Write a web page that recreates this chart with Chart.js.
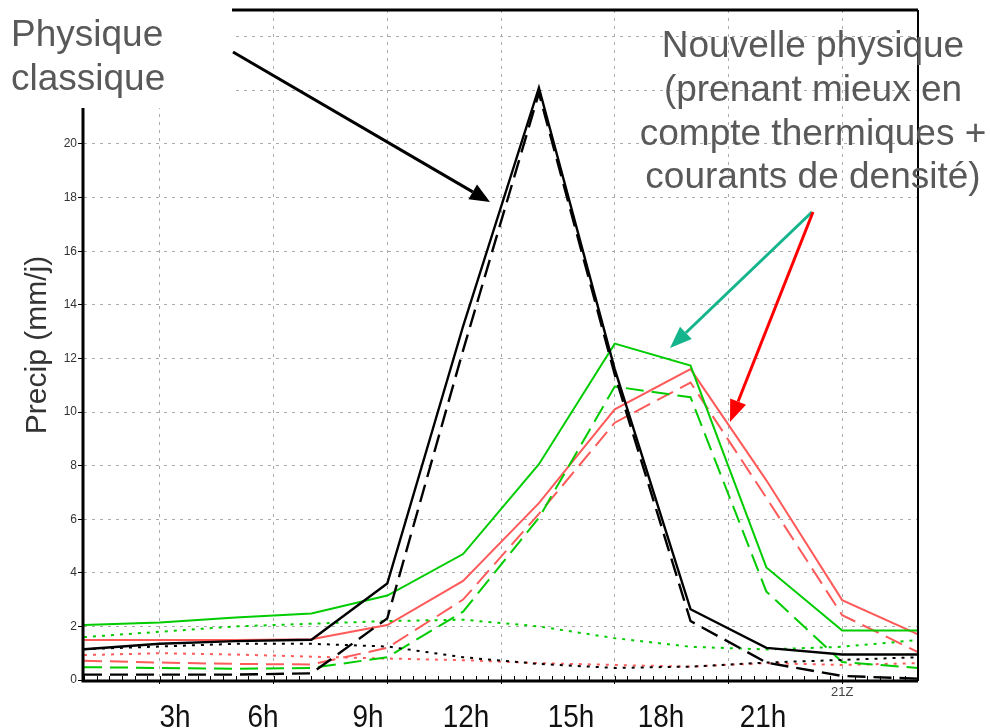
<!DOCTYPE html>
<html>
<head>
<meta charset="utf-8">
<script src="https://cdn.jsdelivr.net/npm/chart.js@4/dist/chart.umd.min.js"></script>
<style>
  html, body { margin: 0; padding: 0; background: #fff; }
  canvas { display: block; }
</style>
</head>
<body>
<canvas id="c" width="990" height="728"></canvas>
<script>
// Hours (UTC) of the model outputs
const hours = [1, 3, 5, 7, 9, 11, 13, 15, 17, 19, 21, 23];

// Precipitation (mm/day) - classic physics (black)
const classicSolid  = [1.15, 1.35, 1.45, 1.5, 3.6, 13.2, 22.1, 11.6, 2.64, 1.2, 0.95, 0.95];
const classicDashed = [0.2, 0.2, 0.2, 0.25, 2.3, 12.3, 21.9, 11.4, 2.2, 0.65, 0.15, 0.05];
const classicDotted = [1.15, 1.25, 1.35, 1.35, 1.25, 0.85, 0.6, 0.45, 0.5, 0.65, 0.75, 0.85];

// New physics with thermals (green)
const thermSolid  = [2.05, 2.15, 2.33, 2.48, 3.15, 4.7, 8.05, 12.55, 11.73, 4.2, 1.85, 1.85];
const thermDashed = [0.48, 0.45, 0.42, 0.45, 0.85, 2.55, 6.05, 10.95, 10.55, 3.3, 0.67, 0.45];
const thermDotted = [1.6, 1.8, 2.0, 2.1, 2.2, 2.25, 2.0, 1.56, 1.24, 1.14, 1.24, 1.49];

// New physics with thermals + density currents (red)
const wakeSolid  = [1.49, 1.49, 1.49, 1.52, 2.05, 3.7, 6.6, 10.1, 11.6, 7.45, 2.98, 1.7];
const wakeDashed = [0.72, 0.65, 0.6, 0.58, 1.2, 3.0, 6.2, 9.6, 11.1, 6.8, 2.42, 1.04];
const wakeDotted = [0.93, 1.0, 0.95, 0.87, 0.8, 0.74, 0.63, 0.56, 0.5, 0.63, 0.56, 0.63];

// Axis ticks
const yTickValues = [0, 2, 4, 6, 8, 10, 12, 14, 16, 18, 20, 22, 24];
const xTickValues = [3, 6, 9, 12, 15, 18, 21];
const xTickLabels = ['', '', '', '', '', '', '21Z'];
const hourLabels = ['3h', '6h', '9h', '12h', '15h', '18h', '21h'];

const BLACK = '#000000';
const GREEN = '#00cc00';
const RED = '#ff5a5a';
const DASH = [18, 8];
const DOT = [3, 6];

function series(values, color, dash, width) {
  return {
    data: hours.map((h, i) => ({ x: h, y: values[i] })),
    borderColor: color,
    borderWidth: width || 2,
    borderDash: dash,
    pointRadius: 0,
    tension: 0,
    fill: false
  };
}

function arrow(ctx, x1, y1, x2, y2, color, width, headLen, headW) {
  const ang = Math.atan2(y2 - y1, x2 - x1);
  const bx = x2 - headLen * Math.cos(ang);
  const by = y2 - headLen * Math.sin(ang);
  ctx.save();
  ctx.strokeStyle = color;
  ctx.fillStyle = color;
  ctx.lineWidth = width;
  ctx.setLineDash([]);
  ctx.beginPath();
  ctx.moveTo(x1, y1);
  ctx.lineTo(bx, by);
  ctx.stroke();
  ctx.beginPath();
  ctx.moveTo(x2, y2);
  ctx.lineTo(bx + (headW / 2) * Math.sin(ang), by - (headW / 2) * Math.cos(ang));
  ctx.lineTo(bx - (headW / 2) * Math.sin(ang), by + (headW / 2) * Math.cos(ang));
  ctx.closePath();
  ctx.fill();
  ctx.restore();
}

const decor = {
  id: 'decor',
  beforeDraw(chart) {
    const ctx = chart.ctx;
    ctx.save();
    ctx.fillStyle = '#ffffff';
    ctx.fillRect(0, 0, chart.width, chart.height);
    ctx.restore();
  },
  afterDraw(chart) {
    const { ctx, chartArea: a, scales: { x, y } } = chart;
    ctx.save();
    ctx.setLineDash([]);

    // minor ticks along the time axis
    ctx.strokeStyle = '#000';
    ctx.lineWidth = 1;
    ctx.beginPath();
    for (let v = x.min; v <= x.max + 1e-6; v += 1 / 3) {
      const px = Math.round(x.getPixelForValue(v)) + 0.5;
      ctx.moveTo(px, a.bottom);
      ctx.lineTo(px, a.bottom - 4);
    }
    ctx.stroke();

    // frame
    ctx.strokeStyle = '#000';
    ctx.lineWidth = 3;
    ctx.beginPath();
    ctx.moveTo(a.left - 1, a.top);
    ctx.lineTo(a.left - 1, a.bottom + 1);
    ctx.lineTo(a.right, a.bottom + 1);
    ctx.moveTo(a.left - 1, a.top);
    ctx.lineTo(a.right, a.top);
    ctx.stroke();
    ctx.lineWidth = 2;
    ctx.beginPath();
    ctx.moveTo(a.right, a.top);
    ctx.lineTo(a.right, a.bottom + 1);
    ctx.stroke();

    // label box, top left
    ctx.fillStyle = '#ffffff';
    ctx.fillRect(0, 0, 232, 108);

    ctx.fillStyle = '#595959';
    ctx.font = '37px "Liberation Sans", Arial, sans-serif';
    ctx.textBaseline = 'alphabetic';
    ctx.textAlign = 'left';
    ctx.fillText('Physique', 11, 46);
    ctx.fillText('classique', 11, 90);

    ctx.textAlign = 'center';
    const newLines = ['Nouvelle physique', '(prenant mieux en', 'compte thermiques +', 'courants de densité)'];
    const baselines = [57, 101, 145, 188];
    newLines.forEach((t, i) => ctx.fillText(t, 813, baselines[i]));

    // arrows
    arrow(ctx, 233, 52, 490, 202, '#000000', 3, 20, 17);
    arrow(ctx, 812, 212, 670, 348, '#14b48c', 3, 22, 17);
    arrow(ctx, 813, 212, 730, 422, '#ff0000', 3, 22, 17);

    // y-axis title
    ctx.save();
    ctx.translate(46, 345);
    ctx.rotate(-Math.PI / 2);
    ctx.fillStyle = '#333333';
    ctx.font = '30px "Liberation Sans", Arial, sans-serif';
    ctx.textAlign = 'center';
    ctx.textBaseline = 'alphabetic';
    ctx.fillText('Precip (mm/j)', 0, 0);
    ctx.restore();

    // local-time labels under the axis
    const labelX = [175, 263, 368, 466, 571, 661, 763];
    ctx.fillStyle = '#111111';
    ctx.font = '31px "Liberation Sans", Arial, sans-serif';
    ctx.textAlign = 'center';
    hourLabels.forEach((t, i) => {
      ctx.save();
      ctx.translate(labelX[i], 727);
      ctx.scale(0.9, 1);
      ctx.fillText(t, 0, 0);
      ctx.restore();
    });

    ctx.restore();
  }
};

new Chart(document.getElementById('c'), {
  type: 'line',
  data: {
    datasets: [
      series(classicSolid, BLACK, [], 2.4),
      series(classicDashed, BLACK, DASH, 2.4),
      series(classicDotted, BLACK, DOT, 2),
      series(thermSolid, GREEN, [], 2),
      series(thermDashed, GREEN, DASH, 2),
      series(thermDotted, GREEN, DOT, 2),
      series(wakeSolid, RED, [], 2),
      series(wakeDashed, RED, DASH, 2),
      series(wakeDotted, RED, DOT, 2)
    ]
  },
  options: {
    responsive: false,
    animation: false,
    devicePixelRatio: 1,
    layout: { padding: { left: 0, right: 72, top: 10, bottom: 0 } },
    plugins: { legend: { display: false }, tooltip: { enabled: false }, title: { display: false } },
    scales: {
      x: {
        type: 'linear',
        min: 1,
        max: 23,
        afterBuildTicks: (s) => { s.ticks = xTickValues.map(v => ({ value: v })); },
        afterFit: (s) => { s.height = 48; },
        ticks: {
          autoSkip: false,
          maxRotation: 0,
          padding: 1,
          color: '#444',
          font: { family: '"Liberation Sans", Arial, sans-serif', size: 13 },
          callback: (v) => { const i = xTickValues.indexOf(v); return i >= 0 ? xTickLabels[i] : ''; }
        },
        grid: {
          color: '#ababab',
          lineWidth: 1,
          tickLength: 4,
          tickColor: '#000',
          tickBorderDash: []
        },
        border: { display: false, dash: [3, 5] }
      },
      y: {
        min: 0,
        max: 25,
        afterBuildTicks: (s) => { s.ticks = yTickValues.map(v => ({ value: v })); },
        afterFit: (s) => { s.width = 84; },
        ticks: {
          padding: 1,
          color: '#333',
          font: { family: '"Liberation Sans", Arial, sans-serif', size: 12 }
        },
        grid: {
          color: '#ababab',
          lineWidth: 1,
          tickLength: 6,
          tickColor: '#000',
          tickBorderDash: []
        },
        border: { display: false, dash: [3, 5] }
      }
    }
  },
  plugins: [decor]
});
</script>
</body>
</html>
